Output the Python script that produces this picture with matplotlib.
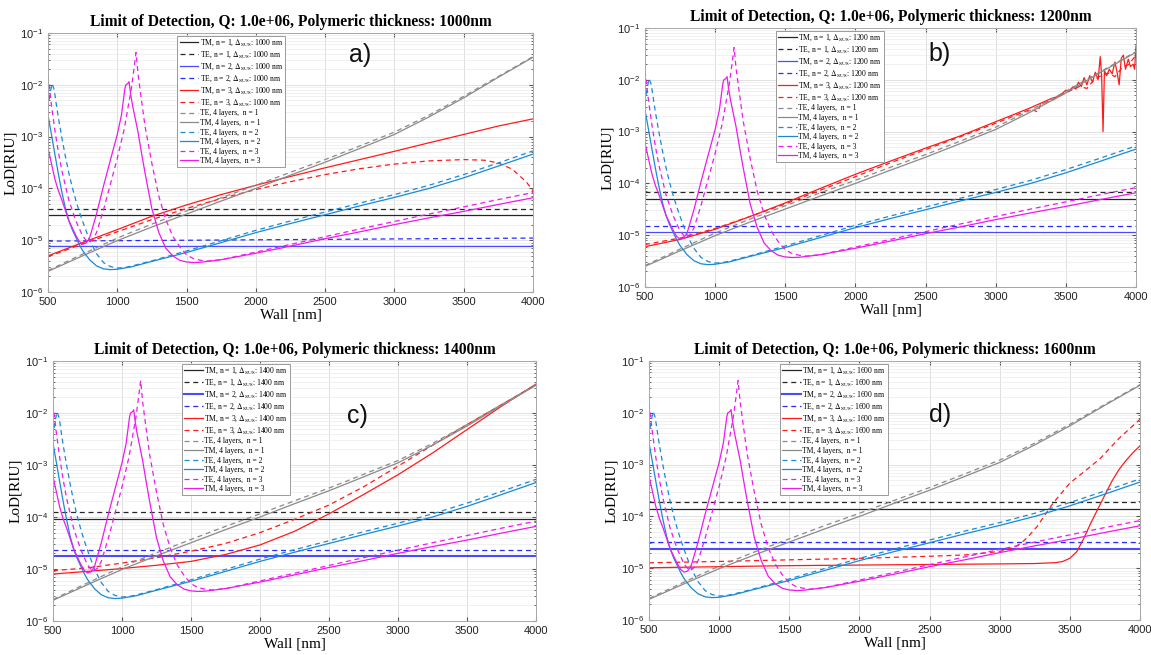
import matplotlib
matplotlib.use("Agg")
import matplotlib.pyplot as plt

plt.rcParams["font.family"] = ["Liberation Sans", "DejaVu Sans"]
plt.rcParams["mathtext.fontset"] = "stix"

# ---- curves shared by all four panels (4-layer structure) ----
wall_n1 = [500, 750, 1000, 1250, 1500, 1750, 2000, 2250, 2500, 2750, 3000, 3250, 3500, 3750, 4000]
tm4_n1 = [2.5e-6, 5.0e-6, 9.8e-6, 1.8e-5, 3.2e-5, 5.7e-5, 1.0e-4, 1.8e-4, 3.2e-4, 5.9e-4, 1.1e-3, 2.4e-3, 5.6e-3, 1.4e-2, 3.4e-2]
te4_n1 = [2.6e-6, 5.4e-6, 1.1e-5, 2.05e-5, 3.7e-5, 6.6e-5, 1.15e-4, 2.05e-4, 3.6e-4, 6.6e-4, 1.22e-3, 2.6e-3, 6.0e-3, 1.45e-2, 3.5e-2]

wall_tm_n2 = [500, 525, 550, 575, 600, 625, 650, 675, 700, 725, 750, 800, 850, 900, 950, 1000, 1100, 1250,
              1500, 1750, 2000, 2250, 2500, 2750, 3000, 3250, 3500, 3750, 4000]
tm4_n2 = [2.6e-3, 1.1e-3, 4.5e-4, 1.9e-4, 8.5e-5, 4.2e-5, 2.4e-5, 1.6e-5, 1.15e-5, 8.3e-6, 6.3e-6, 4.2e-6, 3.2e-6,
          2.8e-6, 2.7e-6, 2.75e-6, 3.05e-6, 3.9e-6, 5.8e-6, 9.0e-6, 1.4e-5, 2.1e-5, 3.1e-5, 4.6e-5, 6.7e-5,
          1.0e-4, 1.6e-4, 2.7e-4, 4.6e-4]

wall_te_n2 = [500, 515, 530, 545, 560, 575, 600, 625, 650, 675, 700, 725, 750, 800, 850, 900, 950, 1000, 1050,
              1100, 1250, 1500, 1750, 2000, 2250, 2500, 2750, 3000, 3250, 3500, 3750, 4000]
te4_n2 = [3.5e-3, 7.0e-3, 1.05e-2, 8.0e-3, 4.2e-3, 2.3e-3, 9.5e-4, 4.2e-4, 2.0e-4, 1.05e-4, 6.0e-5, 3.6e-5, 2.3e-5,
          1.0e-5, 5.5e-6, 3.7e-6, 3.1e-6, 2.9e-6, 2.95e-6, 3.15e-6, 4.0e-6, 6.2e-6, 9.8e-6, 1.55e-5, 2.35e-5,
          3.5e-5, 5.2e-5, 7.6e-5, 1.15e-4, 1.85e-4, 3.1e-4, 5.3e-4]

wall_tm_n3 = [500, 525, 550, 575, 600, 650, 700, 725, 750, 775, 800, 850, 900, 950, 1000, 1030, 1055, 1062, 1075,
              1085, 1095, 1110, 1130, 1150, 1175, 1200, 1250, 1300, 1350, 1400, 1450, 1500, 1550, 1600, 1750,
              2000, 2250, 2500, 2750, 3000, 3250, 3500, 3750, 4000]
tm4_n3 = [6.0e-4, 3.0e-4, 1.5e-4, 9.0e-5, 6.0e-5, 2.4e-5, 1.25e-5, 9.5e-6, 8.4e-6, 8.8e-6, 1.1e-5, 3.2e-5, 1.1e-4,
          3.5e-4, 1.1e-3, 2.6e-3, 8.5e-3, 1.0e-2, 1.05e-2, 1.15e-2, 7.0e-3, 4.0e-3, 2.2e-3, 1.2e-3, 4.8e-4,
          2.0e-4, 4.0e-5, 1.4e-5, 7.0e-6, 5.0e-6, 4.1e-6, 3.8e-6, 3.7e-6, 3.75e-6, 4.2e-6, 5.6e-6, 7.7e-6,
          1.07e-5, 1.45e-5, 2.0e-5, 2.7e-5, 3.6e-5, 4.9e-5, 6.6e-5]

wall_te_n3 = [500, 525, 550, 575, 600, 650, 700, 750, 790, 825, 850, 900, 950, 1000, 1050, 1080, 1100, 1120, 1135,
              1150, 1175, 1200, 1250, 1300, 1350, 1400, 1450, 1500, 1550, 1600, 1650, 1750, 2000, 2250, 2500,
              2750, 3000, 3250, 3500, 3750, 4000]
te4_n3 = [1.5e-2, 4.0e-3, 1.3e-3, 5.0e-4, 2.2e-4, 6.0e-5, 2.4e-5, 1.2e-5, 9.0e-6, 1.05e-5, 1.4e-5, 3.8e-5, 1.2e-4,
          3.8e-4, 1.4e-3, 4.0e-3, 8.0e-3, 2.0e-2, 4.2e-2, 1.6e-2, 5.0e-3, 1.6e-3, 3.0e-4, 7.0e-5, 2.5e-5,
          1.2e-5, 7.5e-6, 5.2e-6, 4.4e-6, 4.1e-6, 3.95e-6, 4.2e-6, 5.9e-6, 8.3e-6, 1.17e-5, 1.65e-5, 2.3e-5,
          3.2e-5, 4.4e-5, 6.1e-5, 8.3e-5]

# ---- per panel (SU8 thickness) ----
thickness = [1000, 1200, 1400, 1600]
panel_tags = ["a)", "b)", "c)", "d)"]
wall_flat = [500, 4000]
tm_n1 = [3.0e-5, 5.1e-5, 9.0e-5, 1.4e-4]
te_n1 = [4.0e-5, 6.9e-5, 1.25e-4, 1.9e-4]
tm_n2 = [7.9e-6, 1.15e-5, 1.75e-5, 2.4e-5]
te_n2 = [[9.6e-6, 1.1e-5], [1.48e-5, 1.48e-5], [2.35e-5, 2.35e-5], [3.2e-5, 3.2e-5]]

wall_a_tm3 = [500, 750, 1000, 1250, 1500, 1750, 2000, 2250, 2500, 2750, 3000, 3250, 3500, 3750, 4000]
a_tm3 = [5.0e-6, 9.0e-6, 1.6e-5, 2.9e-5, 4.8e-5, 7.6e-5, 1.15e-4, 1.7e-4, 2.5e-4, 3.6e-4, 5.2e-4, 7.6e-4, 1.1e-3, 1.6e-3, 2.2e-3]
wall_a_te3 = [500, 750, 1000, 1250, 1500, 1750, 2000, 2250, 2500, 2750, 3000, 3250, 3500, 3650, 3750, 3850, 3950, 4000]
a_te3 = [4.8e-6, 8.5e-6, 1.45e-5, 2.5e-5, 4.1e-5, 6.4e-5, 9.5e-5, 1.35e-4, 1.85e-4, 2.4e-4, 2.95e-4, 3.4e-4,
         3.6e-4, 3.5e-4, 3.1e-4, 2.35e-4, 1.35e-4, 9.0e-5]

wall_b_tm3 = [500, 750, 1000, 1250, 1500, 1750, 2000, 2250, 2500, 2750, 3000, 3250, 3400, 3450, 3500, 3520, 3550,
              3570, 3590, 3610, 3630, 3650, 3670, 3690, 3710, 3730, 3745, 3755, 3765, 3775, 3790, 3810, 3830,
              3850, 3865, 3880, 3895, 3910, 3925, 3945, 3960, 3980, 3990, 4000]
b_tm3 = [6.0e-6, 8.3e-6, 1.3e-5, 2.3e-5, 4.2e-5, 8.0e-5, 1.5e-4, 2.7e-4, 4.8e-4, 8.3e-4, 1.55e-3, 2.9e-3, 4.4e-3,
         4.8e-3, 6.3e-3, 6.0e-3, 7.3e-3, 6.6e-3, 9.0e-3, 7.4e-3, 1.1e-2, 8.0e-3, 1.2e-2, 9.0e-3, 1.4e-2, 1.0e-2,
         2.8e-2, 1.2e-2, 1.0e-3, 1.5e-2, 1.2e-2, 1.6e-2, 1.3e-2, 2.2e-2, 1.4e-2, 8.0e-3, 2.6e-2, 3.0e-2, 1.6e-2,
         2.5e-2, 1.8e-2, 2.0e-2, 1.6e-2, 4.5e-2]
wall_b_te3 = [500, 750, 1000, 1250, 1500, 1750, 2000, 2250, 2500, 2750, 3000, 3250, 3300, 3320, 3400, 3500, 3550,
              3600, 3650, 3700, 3750, 3800, 3850, 3900, 3950, 4000]
b_te3 = [6.6e-6, 8.8e-6, 1.35e-5, 2.3e-5, 4.0e-5, 7.4e-5, 1.35e-4, 2.5e-4, 4.5e-4, 8.0e-4, 1.45e-3, 2.7e-3, 2.4e-3,
         3.4e-3, 4.0e-3, 5.6e-3, 6.5e-3, 7.5e-3, 6.8e-3, 1.0e-2, 1.2e-2, 1.35e-2, 1.15e-2, 1.7e-2, 2.0e-2, 3.0e-2]

wall_c = [500, 750, 1000, 1250, 1500, 1750, 2000, 2250, 2500, 2750, 3000, 3250, 3500, 3750, 4000]
c_tm3 = [8.0e-6, 9.0e-6, 1.02e-5, 1.18e-5, 1.4e-5, 1.9e-5, 2.9e-5, 5.3e-5, 1.15e-4, 2.7e-4, 6.5e-4, 1.7e-3, 4.8e-3, 1.35e-2, 3.6e-2]
c_te3 = [9.3e-6, 1.05e-5, 1.3e-5, 1.65e-5, 2.2e-5, 3.1e-5, 5.0e-5, 9.0e-5, 1.7e-4, 3.8e-4, 9.5e-4, 2.4e-3, 6.0e-3, 1.45e-2, 3.5e-2]

wall_d_tm3 = [500, 1000, 1500, 2000, 2500, 3000, 3250, 3400, 3450, 3500, 3550, 3600, 3650, 3700, 3750, 3800, 3850, 3900, 3950, 4000]
d_tm3 = [1.02e-5, 1.07e-5, 1.12e-5, 1.15e-5, 1.18e-5, 1.21e-5, 1.23e-5, 1.28e-5, 1.35e-5, 1.55e-5, 2.1e-5, 3.8e-5,
         7.5e-5, 1.4e-4, 2.6e-4, 4.8e-4, 8.0e-4, 1.2e-3, 1.7e-3, 2.3e-3]
wall_d_te3 = [500, 1000, 1500, 2000, 2500, 2750, 3000, 3100, 3150, 3200, 3265, 3380, 3500, 3620, 3715, 3850, 4000]
d_te3 = [1.27e-5, 1.35e-5, 1.45e-5, 1.55e-5, 1.7e-5, 1.8e-5, 2.1e-5, 2.5e-5, 3.0e-5, 4.0e-5, 6.3e-5, 1.8e-4, 4.4e-4,
         8.0e-4, 1.3e-3, 3.2e-3, 7.5e-3]

red_solid = [(wall_a_tm3, a_tm3), (wall_b_tm3, b_tm3), (wall_c, c_tm3), (wall_d_tm3, d_tm3)]
red_dashed = [(wall_a_te3, a_te3), (wall_b_te3, b_te3), (wall_c, c_te3), (wall_d_te3, d_te3)]

# axes boxes in pixels: left, right, top, bottom
boxes = [(48, 533, 33, 292), (645, 1136, 28, 287), (53, 536, 361, 621), (649, 1140, 361, 620)]
tag_pos = [(0.643, 0.915), (0.599, 0.90), (0.63, 0.79), (0.593, 0.79)]
blue_lw = [0.9, 0.9, 1.5, 1.5]

W, H = 1151, 655
fig = plt.figure(figsize=(W / 100, H / 100), dpi=100)

DASH = (0, (4, 3))
LW = 0.9
BLACK, BLUE, RED = "#262626", "#2a2aff", "#ff1a1a"
GRAY, CYAN, MAGENTA = "#8a8a8a", "#1a8ad4", "#ee1aee"

for i in range(4):
    l, r, t, b = boxes[i]
    ax = fig.add_axes([l / W, 1 - b / H, (r - l) / W, (b - t) / H])
    th = thickness[i]
    lab = r", $\Delta_{\rm SU8}$: %d nm" % th

    ax.plot(wall_flat, [tm_n1[i]] * 2, color=BLACK, lw=LW, label="TM, n = 1" + lab)
    ax.plot(wall_flat, [te_n1[i]] * 2, color=BLACK, lw=LW, ls=DASH, label="TE, n = 1" + lab)
    ax.plot(wall_flat, [tm_n2[i]] * 2, color=BLUE, lw=blue_lw[i], alpha=0.85, label="TM, n = 2" + lab)
    ax.plot(wall_flat, te_n2[i], color=BLUE, lw=LW, ls=DASH, label="TE, n = 2" + lab)
    ax.plot(*red_solid[i], color=RED, lw=LW, label="TM, n = 3" + lab)
    ax.plot(*red_dashed[i], color=RED, lw=LW, ls=DASH, label="TE, n = 3" + lab)
    ax.plot(wall_n1, te4_n1, color=GRAY, lw=LW, ls=DASH, label="TE, 4 layers,  n = 1")
    ax.plot(wall_n1, tm4_n1, color=GRAY, lw=LW, label="TM, 4 layers,  n = 1")
    ax.plot(wall_te_n2, te4_n2, color=CYAN, lw=LW, ls=DASH, label="TE, 4 layers,  n = 2")
    ax.plot(wall_tm_n2, tm4_n2, color=CYAN, lw=LW, label="TM, 4 layers,  n = 2")
    ax.plot(wall_te_n3, te4_n3, color=MAGENTA, lw=LW, ls=DASH, label="TE, 4 layers,  n = 3")
    ax.plot(wall_tm_n3, tm4_n3, color=MAGENTA, lw=LW, label="TM, 4 layers,  n = 3")

    ax.set_yscale("log")
    ax.set_xlim(500, 4000)
    ax.set_ylim(1e-6, 1e-1)
    ax.set_xticks(range(500, 4001, 500))
    ax.set_yticks([1e-6, 1e-5, 1e-4, 1e-3, 1e-2, 1e-1])
    ax.grid(True, which="major", color="#e0e0e0", lw=0.7)
    ax.grid(True, which="minor", axis="y", color="#ebebeb", lw=0.5)
    ax.set_axisbelow(True)
    ax.tick_params(which="both", direction="in", top=True, right=True, labelsize=8,
                   color="#555555", labelcolor="#222222")
    ax.tick_params(which="major", length=3)
    ax.tick_params(which="minor", length=1.5)
    for s in ax.spines.values():
        s.set_color("#a8a8a8")
        s.set_linewidth(0.7)

    ax.set_title("Limit of Detection, Q: 1.0e+06, Polymeric thickness: %dnm" % th,
                 family="Liberation Serif", fontweight="bold", fontsize=11.2, pad=5)
    ax.set_xlabel("Wall [nm]", family="Liberation Serif", fontsize=11, labelpad=1)
    ax.set_ylabel("LoD[RIU]", family="Liberation Serif", fontsize=11, labelpad=2)
    ax.text(tag_pos[i][0], tag_pos[i][1], panel_tags[i], transform=ax.transAxes,
            fontsize=18, ha="center", va="center", color="#111111")

    leg = ax.legend(loc="upper left", bbox_to_anchor=(0.267, 0.99),
                    prop={"family": "Liberation Serif", "size": 5.5}, frameon=True, fancybox=False,
                    edgecolor="#9a9a9a", framealpha=1, borderpad=0.3, labelspacing=0.2,
                    handlelength=2.4, handletextpad=0.2, borderaxespad=0)
    leg.get_frame().set_linewidth(0.7)

fig.savefig("out.png", dpi=100)
